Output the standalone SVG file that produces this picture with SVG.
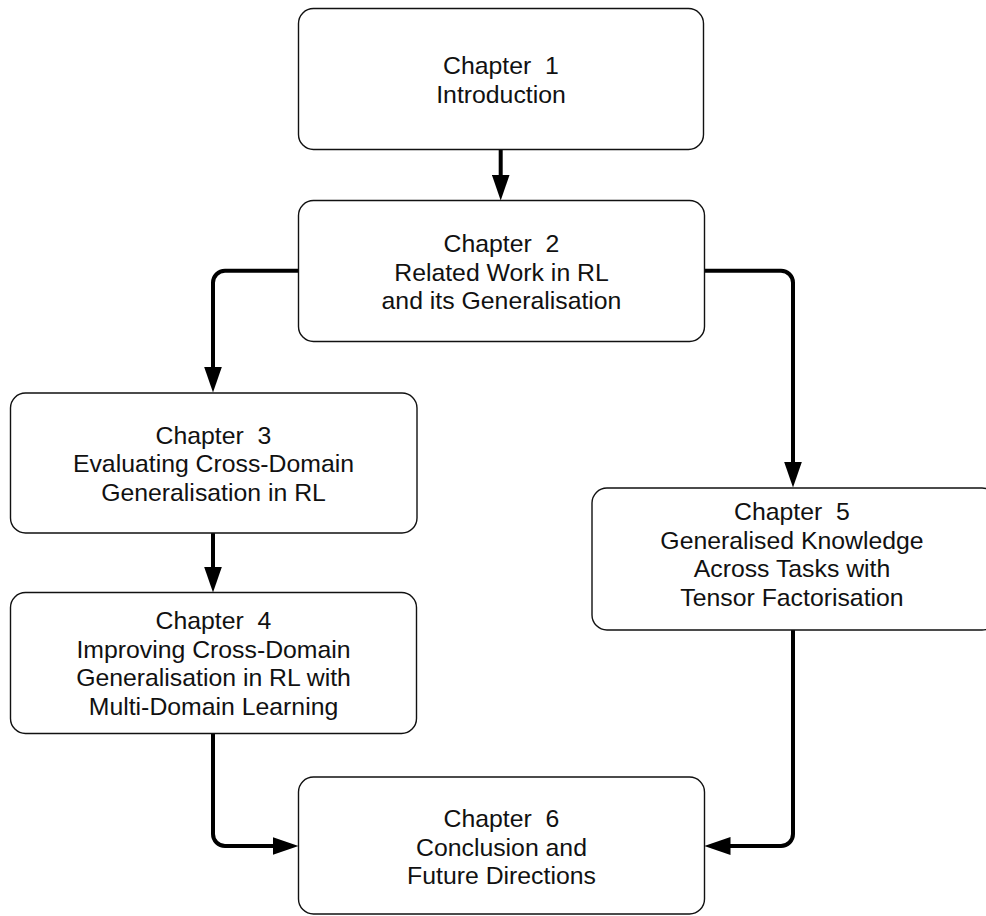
<svg xmlns="http://www.w3.org/2000/svg" width="986" height="916" viewBox="0 0 986 916">
  <style>
    .box { fill: #ffffff; stroke: #111111; stroke-width: 1.4; }
    .lbl { font-family: "Liberation Sans", Arial, Helvetica, sans-serif; font-size: 24.8px; fill: #111111; text-anchor: middle; white-space: pre; }
    .edge { fill: none; stroke: #000000; stroke-width: 4; stroke-linecap: round; stroke-linejoin: round; marker-end: url(#head); }
  </style>
  <defs>
    <marker id="head" viewBox="0 0 26 18" markerUnits="userSpaceOnUse" markerWidth="26" markerHeight="18" refX="6" refY="9" orient="auto">
      <path d="M0,0 L26,9 L0,18 z" fill="#000000"/>
    </marker>
  </defs>
  <rect width="986" height="916" fill="#ffffff"/>

  <!-- connectors -->
  <g id="connectors">
    <path class="edge" d="M500.7,150 V180.5"/>
    <path class="edge" d="M298.5,270.7 H225 A12,12 0 0 0 213,282.7 V372.5"/>
    <path class="edge" d="M704.5,270.7 H781 A12,12 0 0 1 793,282.7 V467.5"/>
    <path class="edge" d="M213,533.5 V572.5"/>
    <path class="edge" d="M213,734 V834 A12,12 0 0 0 225,846 H278.5"/>
    <path class="edge" d="M793,630.5 V834 A12,12 0 0 1 781,846 H724.5"/>
  </g>

  <!-- chapter nodes -->
  <g id="ch1">
    <rect class="box" x="298.5" y="8.5" width="405" height="141" rx="15"/>
    <text class="lbl" x="501" y="74">Chapter  1</text>
    <text class="lbl" x="501" y="103">Introduction</text>
  </g>
  <g id="ch2">
    <rect class="box" x="298.5" y="200.5" width="406" height="141" rx="15"/>
    <text class="lbl" x="501.5" y="252">Chapter  2</text>
    <text class="lbl" x="501.5" y="280.5">Related Work in RL</text>
    <text class="lbl" x="501.5" y="309">and its Generalisation</text>
  </g>
  <g id="ch3">
    <rect class="box" x="10.5" y="393" width="406.5" height="140" rx="15"/>
    <text class="lbl" x="213.5" y="443.5">Chapter  3</text>
    <text class="lbl" x="213.5" y="472">Evaluating Cross-Domain</text>
    <text class="lbl" x="213.5" y="500.5">Generalisation in RL</text>
  </g>
  <g id="ch4">
    <rect class="box" x="10.5" y="592.5" width="406" height="141" rx="15"/>
    <text class="lbl" x="213.5" y="629">Chapter  4</text>
    <text class="lbl" x="213.5" y="657.5">Improving Cross-Domain</text>
    <text class="lbl" x="213.5" y="686">Generalisation in RL with</text>
    <text class="lbl" x="213.5" y="714.5">Multi-Domain Learning</text>
  </g>
  <g id="ch5">
    <rect class="box" x="592" y="488" width="405" height="142" rx="15"/>
    <text class="lbl" x="792" y="520">Chapter  5</text>
    <text class="lbl" x="792" y="548.5">Generalised Knowledge</text>
    <text class="lbl" x="792" y="577">Across Tasks with</text>
    <text class="lbl" x="792" y="605.5">Tensor Factorisation</text>
  </g>
  <g id="ch6">
    <rect class="box" x="298.5" y="777" width="406" height="137" rx="15"/>
    <text class="lbl" x="501.5" y="827">Chapter  6</text>
    <text class="lbl" x="501.5" y="855.5">Conclusion and</text>
    <text class="lbl" x="501.5" y="884">Future Directions</text>
  </g>
</svg>
